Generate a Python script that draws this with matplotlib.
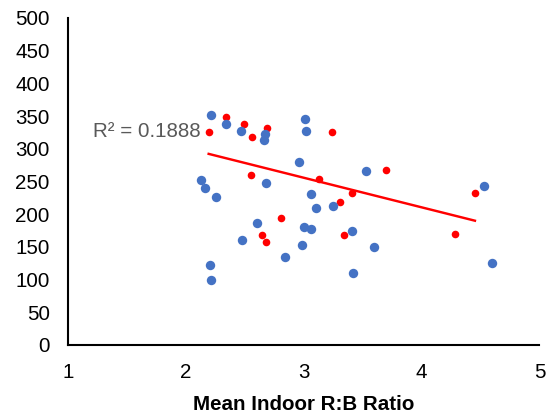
import numpy as np
import matplotlib
matplotlib.use('Agg')
import matplotlib.pyplot as plt

# Serie roja (con línea de tendencia)
red_x = [2.195, 2.340, 2.497, 2.559, 2.692, 3.240, 2.556, 3.130, 3.701,
         3.414, 3.305, 4.453, 2.811, 2.645, 2.678, 3.343, 4.287]
red_y = [326, 348, 338, 318, 332, 326, 260, 254, 267,
         233, 219, 233, 194, 168, 157, 168, 169]

# Serie azul
blue_x = [2.219, 2.340, 2.473, 2.672, 2.666, 3.012, 3.024, 2.962, 2.130,
          2.163, 2.260, 2.683, 3.533, 3.059, 3.109, 3.251, 4.527, 2.609,
          3.000, 3.062, 3.408, 2.476, 2.985, 3.595, 2.843, 2.204, 2.216,
          3.423, 4.598]
blue_y = [351, 338, 327, 323, 313, 346, 327, 280, 252,
          240, 226, 248, 266, 231, 210, 213, 243, 187,
          181, 178, 175, 161, 153, 150, 135, 122, 100,
          110, 125]

r2_label = 'R² = 0.1888'

plt.rcParams['font.family'] = ['Liberation Sans', 'DejaVu Sans']

fig = plt.figure(figsize=(5.47, 4.15), dpi=100)
ax = fig.add_axes([0.1238, 0.1687, 0.8624, 0.7880])

ax.scatter(red_x, red_y, s=30, color='#FF0000', linewidths=0, zorder=2)
ax.scatter(blue_x, blue_y, s=46, color='#4472C4', linewidths=0, zorder=3)

# Tendencia lineal de la serie roja
coef = np.polyfit(red_x, red_y, 1)
tx = np.array([min(red_x), max(red_x)])
ax.plot(tx, np.polyval(coef, tx), color='#FF0000', lw=1.75, zorder=4)

ax.text(2.129, 326, r2_label, color='#595959', fontsize=14.8,
        ha='right', va='center', zorder=5)

ax.set_xlim(1, 5)
ax.set_ylim(0, 500)
ax.set_xticks([1, 2, 3, 4, 5])
ax.set_yticks(np.arange(0, 501, 50))
ax.tick_params(length=0, labelsize=14.8, colors='black')
ax.tick_params(axis='x', pad=13)
ax.tick_params(axis='y', pad=13)
for side in ['top', 'right']:
    ax.spines[side].set_visible(False)
for side in ['left', 'bottom']:
    ax.spines[side].set_linewidth(1.5)
    ax.spines[side].set_color('black')

ax.set_xlabel('Mean Indoor R:B Ratio', fontsize=14.8, fontweight='bold', labelpad=9)

fig.savefig('out.png', dpi=100)
